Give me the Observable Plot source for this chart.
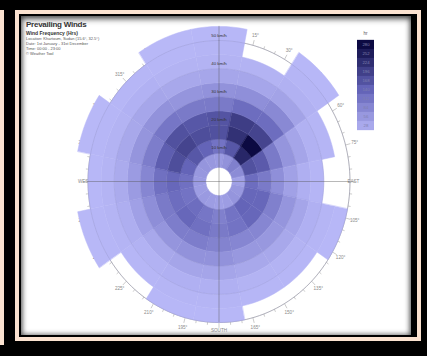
<!DOCTYPE html>
<html><head><meta charset="utf-8">
<script src="https://cdn.jsdelivr.net/npm/d3@7"></script>
<script src="https://cdn.jsdelivr.net/npm/@observablehq/plot@0.6"></script>
<style>
body{margin:0;width:427px;height:356px;overflow:hidden;position:relative;background:#000;font-family:"Liberation Sans",Arial,sans-serif}
.abs{position:absolute}
</style></head>
<body>
<div class="abs" style="left:0;top:10px;width:4px;height:335px;background:#fbe2d0"></div>
<div class="abs" style="left:15px;top:10px;width:398px;height:323px;border:4px solid #fbe2d0"></div>
<div class="abs" style="left:21px;top:16px;width:390px;height:319px;background:#fff;box-shadow:inset 0 3px 6px rgba(0,0,0,.55),inset 0 0 5px 1px rgba(0,0,0,.45)"></div>
<div id="chart" class="abs" style="left:0;top:0"></div>
<div class="abs" style="left:26px;top:21px;color:#333;line-height:1">
  <div style="font-size:8px;font-weight:bold;letter-spacing:-0.25px">Prevailing Winds</div>
  <div style="font-size:5px;font-weight:bold;margin-top:1.5px">Wind Frequency (Hrs)</div>
  <div style="font-size:4px;margin-top:1.5px;color:#555">Location: Khartoum, Sudan (15.6°, 32.5°)</div>
  <div style="font-size:4px;margin-top:1px;color:#555">Date: 1st January - 31st December</div>
  <div style="font-size:4px;margin-top:1px;color:#555">Time: 00:00 - 23:00</div>
  <div style="font-size:4px;margin-top:1px;color:#555">© Weather Tool</div>
</div>
<div class="abs" style="left:357px;top:31px;width:17px;text-align:center;font-size:4.5px;color:#555">hr</div>
<div id="legend" class="abs" style="left:357px;top:38px"></div>
<script>
// ---- data ----
const sectors = ["N","NNE","NE","ENE","E","ESE","SE","SSE","S","SSW","SW","WSW","W","WNW","NW","NNW"];
const speedBins = [5,10,15,20,25,30,35,40,45,50]; // lower bound of each 5 km/h bin
// hours per speed bin (5-10, 10-15, ...) for each direction sector
const hN   = [50, 115, 170, 165, 105, 65, 32, 12, 8, 5];
const hNNE = [65, 160, 220, 200, 125, 70, 32, 12];
const hNE  = [95, 235, 280, 190, 125, 80, 38, 15, 8, 5];
const hENE = [75, 170, 155, 105, 60, 35, 15, 8];
const hE   = [40, 125, 105, 70, 40, 18, 8];
const hESE = [55, 135, 135, 95, 60, 35, 16, 8, 5];
const hSE  = [60, 140, 135, 85, 55, 30, 12, 6];
const hSSE = [48, 115, 115, 85, 55, 30, 12, 6];
const hS   = [42, 95, 105, 90, 65, 35, 16, 8, 5];
const hSSW = [48, 110, 120, 100, 65, 35, 16, 8, 5];
const hSW  = [52, 125, 135, 100, 60, 30, 13, 6];
const hWSW = [48, 115, 125, 105, 72, 42, 20, 10, 6, 4];
const hW   = [50, 120, 135, 120, 85, 50, 25, 10, 5];
const hWNW = [55, 140, 175, 150, 100, 60, 30, 12, 6, 4];
const hNW  = [60, 160, 190, 170, 110, 65, 32, 14, 6];
const hNNW = [55, 140, 175, 160, 105, 60, 30, 12, 6, 4];
const hours = [hN,hNNE,hNE,hENE,hE,hESE,hSE,hSSE,hS,hSSW,hSW,hWSW,hW,hWNW,hNW,hNNW];
const speedLabels = [10,20,30,40,50];
const legendValues = [280,252,224,196,168,140,112,84,56,28];
const cardinals = [{t:"EAST",a:90},{t:"SOUTH",a:180},{t:"WEST",a:270}];

// ---- geometry helpers ----
const rad = a => a*Math.PI/180;
const px = (a,r) => r*Math.sin(rad(a));
const py = (a,r) => r*Math.cos(rad(a));
const binW = 5, secW = 360/sectors.length;

const pts = [];
sectors.forEach((s,i)=>{
  const a0 = i*secW - secW/2, a1 = i*secW + secW/2;
  hours[i].forEach((h,j)=>{
    const r0 = speedBins[j], r1 = r0 + binW, id = s+"-"+j;
    for(let k=0;k<=8;k++){const a=a0+(a1-a0)*k/8; pts.push({id,h,x:px(a,r0),y:py(a,r0)});}
    for(let k=8;k>=0;k--){const a=a0+(a1-a0)*k/8; pts.push({id,h,x:px(a,r1),y:py(a,r1)});}
  });
});
const circ = [];
speedLabels.forEach(v=>d3.range(0,361,3).forEach(a=>circ.push({v,x:px(a,v),y:py(a,v)})));
const axisCirc = d3.range(0,361,2).map(a=>({x:px(a,50),y:py(a,50)}));
const ticks = d3.range(0,360,5).map(a=>{const L = a%15===0?1.9:1.0; return {x1:px(a,50),y1:py(a,50),x2:px(a,50+L),y2:py(a,50+L)};});
const degLabels = d3.range(15,360,15).filter(a=>a%90!==0).map(a=>({t:a+"°",x:px(a,53.6),y:py(a,53.6)}));

const colorScale = {type:"linear", domain:[0,140,280], range:["#babaf9","#6464b8","#0c0a42"], interpolate:d3.interpolateRgb};

const chart = Plot.plot({
  width:427, height:356, margin:0,
  style:{background:"transparent", fontFamily:"Liberation Sans, Arial, sans-serif"},
  x:{domain:[-50,50], range:[87.5,349.5], axis:null},
  y:{domain:[-50,50], range:[322,40], axis:null},
  color:colorScale,
  marks:[
    Plot.line(axisCirc,{x:"x",y:"y",stroke:"#a8a8a8",strokeWidth:0.7}),
    Plot.link(ticks,{x1:"x1",y1:"y1",x2:"x2",y2:"y2",stroke:"#a8a8a8",strokeWidth:0.6}),
    Plot.text(degLabels,{x:"x",y:"y",text:"t",fontSize:4.6,fill:"#8a8a8a"}),
    Plot.text(cardinals,{x:d=>px(d.a,d.a===180?52.8:51.3),y:d=>py(d.a,52.8),text:"t",fontSize:4.6,fill:"#8a8a8a",
      textAnchor:d=>d.a===90?"start":d.a===270?"end":"middle"}),
    Plot.line(pts,{x:"x",y:"y",z:"id",fill:"h",stroke:"h",strokeWidth:0.5,curve:"linear-closed"}),
    Plot.line(circ,{x:"x",y:"y",z:"v",stroke:"#6a6aa8",strokeOpacity:0.3,strokeWidth:0.6}),
    Plot.ruleY([0],{x1:-50,x2:50,stroke:"#555",strokeOpacity:0.6,strokeWidth:0.7}),
    Plot.ruleX([0],{y1:-50,y2:55,stroke:"#555",strokeOpacity:0.6,strokeWidth:0.7}),
    Plot.text(speedLabels,{x:0,y:d=>d+1.9,text:d=>d+" km/h",fontSize:4.4,fill:"#333"})
  ]
});
document.getElementById("chart").appendChild(chart);

const legend = Plot.plot({
  width:17, height:94, margin:0,
  style:{background:"transparent", fontFamily:"Liberation Sans, Arial, sans-serif"},
  x:{axis:null},
  y:{domain:legendValues, axis:null, padding:0},
  color:colorScale,
  marks:[
    Plot.cell(legendValues,{y:d=>d,fill:d=>d,stroke:d=>d,strokeWidth:0.3}),
    Plot.text(legendValues,{y:d=>d,text:d=>String(d),fontSize:4.3,fill:"#8080b0",frameAnchor:"middle"})
  ]
});
document.getElementById("legend").appendChild(legend);
</script>
</body></html>
